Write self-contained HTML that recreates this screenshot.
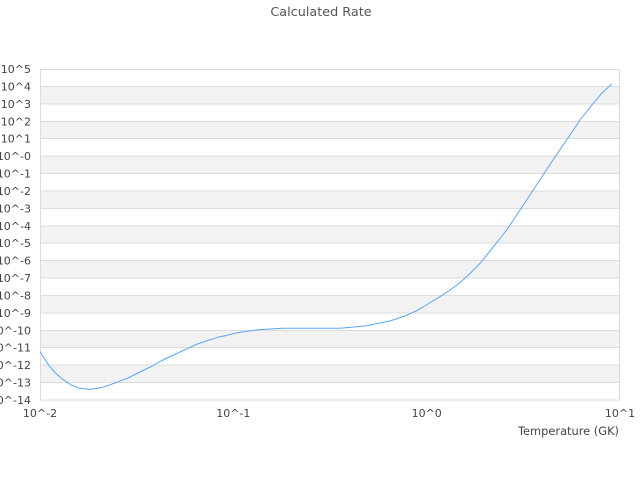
<!DOCTYPE html>
<html><head><meta charset="utf-8"><style>
html,body{margin:0;padding:0;background:#fff;}
svg{display:block;}
text{font-family:"DejaVu Sans","Liberation Sans",sans-serif;fill:#444;}
</style></head><body>
<svg width="640" height="480" viewBox="0 0 640 480" xmlns="http://www.w3.org/2000/svg">
<rect x="0" y="0" width="640" height="480" fill="#fff"/>
<text x="321" y="16" text-anchor="middle" font-size="12.8" style="fill:#555">Calculated Rate</text>
<g fill="#f2f2f2">
<rect x="40" y="86.42" width="580" height="17.42"/>
<rect x="40" y="121.26" width="580" height="17.42"/>
<rect x="40" y="156.11" width="580" height="17.42"/>
<rect x="40" y="190.95" width="580" height="17.42"/>
<rect x="40" y="225.79" width="580" height="17.42"/>
<rect x="40" y="260.63" width="580" height="17.42"/>
<rect x="40" y="295.47" width="580" height="17.42"/>
<rect x="40" y="330.32" width="580" height="17.42"/>
<rect x="40" y="365.16" width="580" height="17.42"/>
</g>
<g stroke="#dcdcdc" stroke-width="1" shape-rendering="crispEdges">
<line x1="40" y1="86.42" x2="620" y2="86.42"/>
<line x1="40" y1="103.84" x2="620" y2="103.84"/>
<line x1="40" y1="121.26" x2="620" y2="121.26"/>
<line x1="40" y1="138.68" x2="620" y2="138.68"/>
<line x1="40" y1="156.11" x2="620" y2="156.11"/>
<line x1="40" y1="173.53" x2="620" y2="173.53"/>
<line x1="40" y1="190.95" x2="620" y2="190.95"/>
<line x1="40" y1="208.37" x2="620" y2="208.37"/>
<line x1="40" y1="225.79" x2="620" y2="225.79"/>
<line x1="40" y1="243.21" x2="620" y2="243.21"/>
<line x1="40" y1="260.63" x2="620" y2="260.63"/>
<line x1="40" y1="278.05" x2="620" y2="278.05"/>
<line x1="40" y1="295.47" x2="620" y2="295.47"/>
<line x1="40" y1="312.89" x2="620" y2="312.89"/>
<line x1="40" y1="330.32" x2="620" y2="330.32"/>
<line x1="40" y1="347.74" x2="620" y2="347.74"/>
<line x1="40" y1="365.16" x2="620" y2="365.16"/>
<line x1="40" y1="382.58" x2="620" y2="382.58"/>
</g>
<rect x="40.5" y="69.5" width="579" height="330.5" fill="none" stroke="#dcdcdc" stroke-width="1"/>
<g font-size="11" text-anchor="end">
<text x="31" y="73">10^5</text>
<text x="31" y="90.4">10^4</text>
<text x="31" y="107.8">10^3</text>
<text x="31" y="125.3">10^2</text>
<text x="31" y="142.7">10^1</text>
<text x="31" y="160.1">10^-0</text>
<text x="31" y="177.5">10^-1</text>
<text x="31" y="195">10^-2</text>
<text x="31" y="212.4">10^-3</text>
<text x="31" y="229.8">10^-4</text>
<text x="31" y="247.2">10^-5</text>
<text x="31" y="264.6">10^-6</text>
<text x="31" y="282.1">10^-7</text>
<text x="31" y="299.5">10^-8</text>
<text x="31" y="316.9">10^-9</text>
<text x="31" y="334.3">10^-10</text>
<text x="31" y="351.7">10^-11</text>
<text x="31" y="369.2">10^-12</text>
<text x="31" y="386.6">10^-13</text>
<text x="31" y="404">10^-14</text>
</g>
<g font-size="11" text-anchor="middle">
<text x="40" y="417">10^-2</text>
<text x="233.3" y="417">10^-1</text>
<text x="426.7" y="417">10^0</text>
<text x="620" y="417">10^1</text>
</g>
<text x="619" y="435" font-size="11.4" text-anchor="end">Temperature (GK)</text>
<polyline fill="none" stroke="#5aa5f5" stroke-width="1" stroke-linejoin="round"
points="40,351.5 44,358 49.7,366.5 55,372.5 61.3,378.3 71.3,385 79.7,388.3 89.7,389.2 97,388.5 104.7,386.7 115,383 128,378 140,372 151.3,366.5 161,361 171.3,356 180,352 188,348.3 196,344.5 204.7,341.5 218,337.3 226,335.5 234.7,333.3 245,331.5 258,329.8 270,329 283,328.3 340,328.3 366.7,325.7 390,321 405,316 416.7,310.7 428,304 440,296.7 450,290 460,282.7 470,273.5 480,263.3 490,251 500,238.5 506.7,230 520,210 533.3,190 545,172 557,154 570,135 580,120 593.3,103.3 602,93 611.7,84"/>
</svg>
</body></html>
